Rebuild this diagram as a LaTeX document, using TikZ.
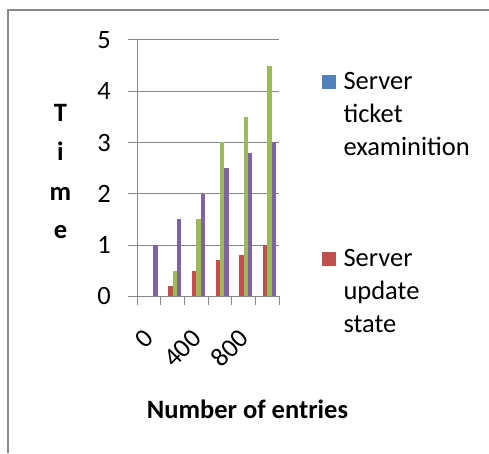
\documentclass[tikz,border=0pt]{standalone}
\usepackage{fontspec}
\setmainfont{Carlito}
\definecolor{serA}{HTML}{4F81BD}
\definecolor{serB}{HTML}{C0504D}
\definecolor{serC}{HTML}{9BBB59}
\definecolor{serD}{HTML}{8064A2}
\definecolor{gridgray}{HTML}{868686}
\definecolor{framegray}{HTML}{8A8A8A}
\tikzset{
  lbl/.style={font=\fontsize{26.5}{33}\selectfont, inner sep=0pt, text=black},
  boldlbl/.style={font=\fontsize{26.5}{33}\selectfont\bfseries, inner sep=0pt, text=black},
  gridln/.style={draw=gridgray, line width=1pt},
  framel/.style={draw=framegray, line width=2pt},
}
\begin{document}
\begin{tikzpicture}[x=1pt,y=-1pt]
\useasboundingbox (0,0) rectangle (489,453);
% frame (top and left edges)
\coordinate (frTR) at (489,10);
\coordinate (frTL) at (7.7,10);
\coordinate (frBL) at (7.7,453);
\draw[framel] (frTR) -- (frTL) -- (frBL);
% gridlines and y labels
\foreach \v in {0,...,5}{
  \pgfmathsetmacro{\yy}{296.3-51.27*\v}
  \coordinate (gL\v) at (128.3,\yy);
  \coordinate (gR\v) at (279,\yy);
  \draw[gridln] (gL\v) -- (gR\v);
  \node[lbl, anchor=east] (yl\v) at (111,\yy) {\v};
}
% axes
\coordinate (axTop) at (137.3,40);
\coordinate (axOrig) at (137.3,296.3);
\draw[gridln] (axTop) -- (axOrig);
% x ticks
\foreach \k in {0,...,6}{
  \pgfmathsetmacro{\xx}{137.3+23.62*\k}
  \coordinate (tA\k) at (\xx,296.3);
  \coordinate (tB\k) at (\xx,305);
  \draw[gridln] (tA\k) -- (tB\k);
}
% bars: red, green, purple (blue series is zero)
\foreach \k/\r/\g/\p in {0/0/0/1, 1/0.2/0.5/1.5, 2/0.5/1.5/2, 3/0.7/3/2.5, 4/0.8/3.5/2.8, 5/1/4.5/3}{
  \pgfmathsetmacro{\cs}{137.3+23.62*\k}
  \fill[serB] (\cs+7.5,296.3) rectangle (\cs+11.8,296.3-51.27*\r);
  \fill[serC] (\cs+11.8,296.3) rectangle (\cs+16.1,296.3-51.27*\g);
  \fill[serD] (\cs+16.1,296.3) rectangle (\cs+20.4,296.3-51.27*\p);
}
% x labels
\node[lbl, rotate=45, anchor=east] (xl0) at (149.6,334) {0};
\node[lbl, rotate=45, anchor=east] (xl400) at (196.9,334) {400};
\node[lbl, rotate=45, anchor=east] (xl800) at (244.1,334) {800};
% axis titles
\node[boldlbl, anchor=base] (tT) at (60.5,121.7) {T};
\node[boldlbl, anchor=base] (ti) at (60.5,160) {i};
\node[boldlbl, anchor=base] (tm) at (60.5,200) {m};
\node[boldlbl, anchor=base] (te) at (60.5,238.5) {e};
\node[boldlbl, anchor=base] (xtitle) at (247.5,418) {Number of entries};
% legend
\fill[serA] (322,75) rectangle (336,89);
\node[lbl, anchor=base west, align=left] (leg1) at (343.3,155.5) {Server\\ticket\\examinition};
\fill[serB] (322,252) rectangle (336,266);
\node[lbl, anchor=base west, align=left] (leg2) at (343.3,332.2) {Server\\update\\state};
\end{tikzpicture}
\end{document}
